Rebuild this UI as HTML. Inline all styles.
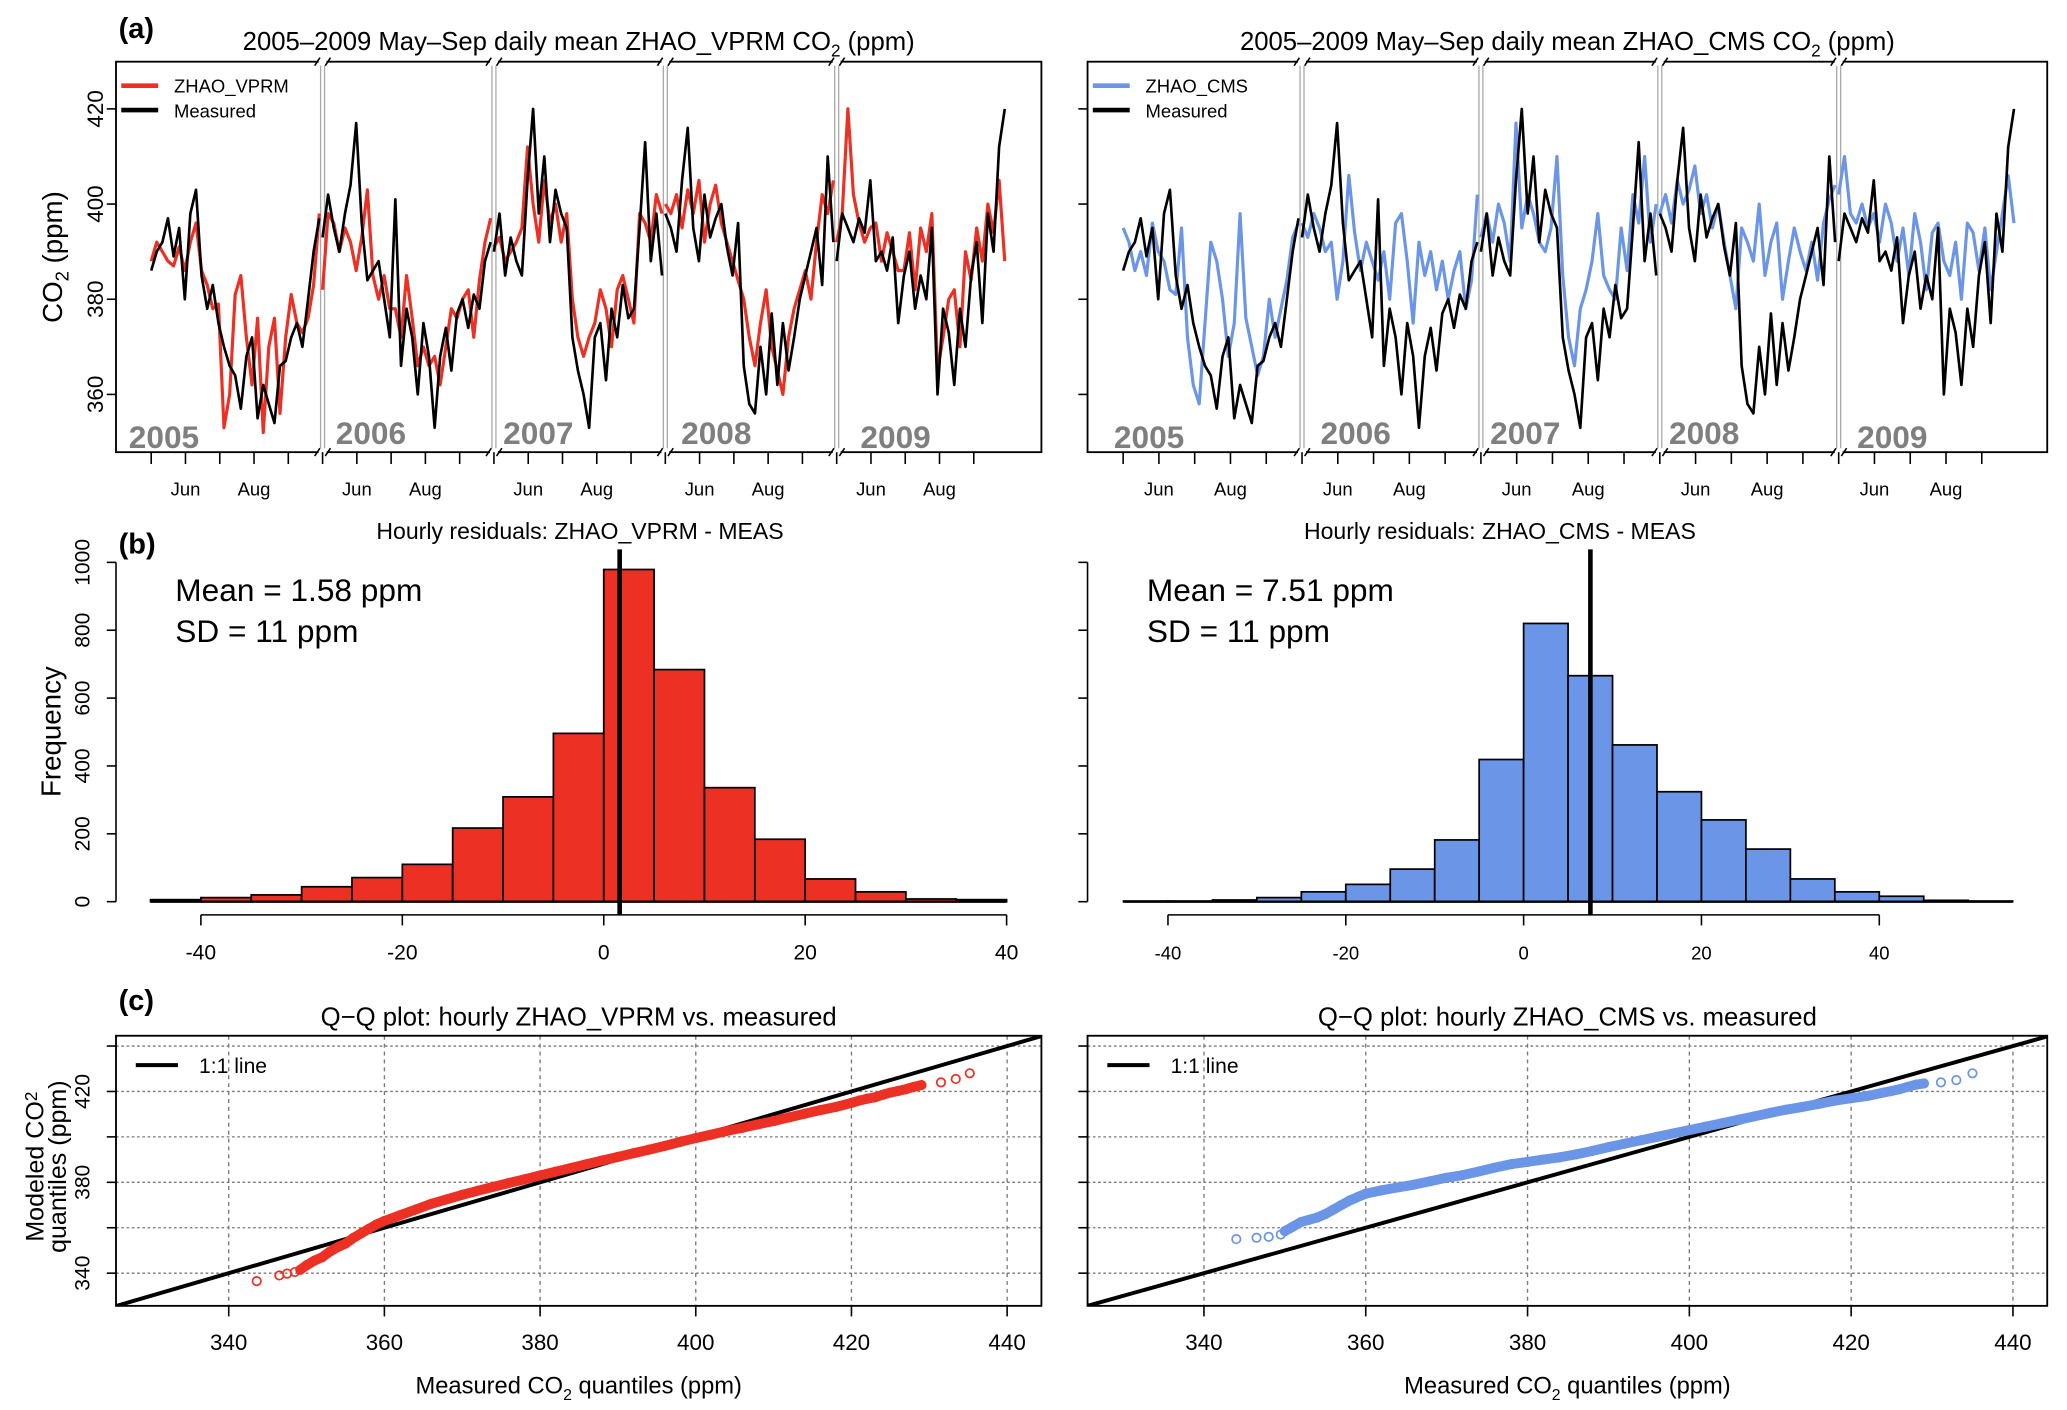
<!DOCTYPE html>
<html><head><meta charset="utf-8"><title>CO2 model comparison</title>
<style>
html,body{margin:0;padding:0;background:#fff;}
svg{display:block;font-family:"Liberation Sans",Arial,sans-serif;}
</style></head>
<body>
<svg id="fig" xmlns="http://www.w3.org/2000/svg" width="2067" height="1410" viewBox="0 0 1568 1069.6" preserveAspectRatio="none"></svg>
<script>
// ---------- DATA ----------
const years = ["2005","2006","2007","2008","2009"];
const monthLabels = ["Jun","Aug"];
const aTickValues = [360,380,400,420];
const measured = [
 [386,390,392,397,389,395,380,398,403,385,378,383,375,370,366,364,357,368,372,355,362,358,354,366,367,372,375,370,380,390,397],
 [393,402,395,390,398,404,417,396,384,386,388,380,372,401,366,378,372,360,375,368,353,368,374,365,377,380,374,381,378,388,392],
 [390,398,385,393,388,385,405,420,398,410,392,403,398,395,372,365,360,353,372,375,363,378,372,383,376,378,395,413,388,398,385],
 [398,395,390,405,416,395,388,402,393,397,400,391,385,396,366,358,356,370,360,377,362,375,365,372,380,385,390,395,383,410,392],
 [388,398,395,392,397,394,405,388,390,386,393,375,385,390,378,385,380,395,360,378,373,362,378,370,385,392,375,398,390,412,420]
];
const vprm = [
 [388,392,390,388,387,391,386,392,396,386,383,378,379,353,360,381,385,372,362,376,352,370,376,356,372,381,375,373,376,383,398],
 [382,398,396,390,395,392,386,393,403,385,380,385,378,378,372,385,376,366,370,366,368,362,370,378,376,380,382,372,384,392,397],
 [391,393,388,390,392,395,412,400,392,405,396,400,392,398,380,372,368,372,375,382,378,370,382,385,380,375,398,396,392,402,398],
 [400,398,402,395,403,398,405,392,400,404,396,392,388,384,380,372,366,375,382,370,365,360,372,378,382,386,380,392,402,398,405],
 [392,398,420,402,396,392,395,396,388,394,390,386,386,394,382,395,390,398,365,372,380,382,370,390,384,395,388,400,394,405,388]
];
const cms = [
 [395,392,386,390,385,396,390,388,382,381,395,372,362,358,375,392,388,380,368,375,398,376,370,364,368,380,372,378,384,393,396],
 [396,393,398,395,390,392,380,388,406,394,386,392,388,384,390,380,396,398,388,375,392,385,390,382,388,380,386,390,378,384,402],
 [393,398,392,400,396,388,417,395,402,398,392,390,395,410,385,372,366,378,382,388,398,385,382,380,395,386,402,396,410,392,400],
 [398,402,396,405,400,403,408,398,402,395,400,392,385,378,395,392,388,400,385,392,396,380,388,395,390,386,392,384,396,401,404],
 [402,410,398,396,400,395,398,392,400,396,388,395,385,398,392,382,394,396,388,385,392,380,396,394,386,395,382,390,398,406,396]
];
const vprmBinStart = [-45,-40,-35,-30,-25,-20,-15,-10,-5,0,5,10,15,20,25,30,35];
const vprmCounts   = [6,12,20,44,71,110,217,309,496,979,684,336,184,67,29,8,6];
const cmsBinStart  = [-45,-40,-35,-30,-25,-20,-15,-10,-5,0,5,10,15,20,25,30,35,40,45,50];
const cmsCounts    = [2,2,5,12,29,51,96,182,419,820,666,462,324,241,155,67,29,16,4,2];
const histYTicks = [0,200,400,600,800,1000];
const histXTicks = [-40,-20,0,20,40];
const vprmMean = 1.58, cmsMean = 7.51;
const qqTicks = [340,360,380,400,420,440];
const vprmQmeas  = [343.6,346.5,347.5,348.5,349.2,350,351,352,353,354,355,356,357,358,359,360,362,364,366,368,370,372,374,376,378,380,382,384,386,388,390,392,394,396,398,400,402,404,406,408,410,412,414,416,418,420,421,422,423,424,425,426,427,428,429,431.5,433.4,435.2];
const vprmQmodel = [336.5,339,339.8,340.5,341.5,343.5,345.5,347,349.5,351.5,353,355.5,357.5,359.5,361.5,363,365.5,368,370.5,372.5,374.5,376.3,378,379.7,381.3,383,384.7,386.3,388,389.6,391.2,392.8,394.4,396,397.8,399.5,401,402.6,404,405.5,407,408.6,410.2,411.8,413.2,415,416,416.8,417.4,418.5,419.5,420.2,421,422,422.8,424,425.5,428];
const cmsQmeas  = [344,346.5,348,349.5,350,351,352,353,354,355,356,357,358,359,360,362,364,366,368,370,372,374,376,378,380,382,384,386,388,390,392,394,396,398,400,402,404,406,408,410,412,414,416,418,420,422,424,425,426,427,428,429,431.1,433,435];
const cmsQmodel = [355,355.6,356,357,358.5,360.5,362.5,363.5,364.5,366,368,370,372,373.5,375,376.5,377.8,379,380.5,382,383.2,384.8,386.5,388,389,390,391,392.3,393.8,395.5,397,398.5,400,401.5,403,404.5,406,407.5,409,410.6,412,413.2,414.5,416,417,418,419.5,420.2,421,422,423,423.5,424,425,428];

// ---------- HELPERS ----------
const NS = "http://www.w3.org/2000/svg";
const svg = document.getElementById("fig");
function mk(tag, attrs, parent){
  const e = document.createElementNS(NS, tag);
  for (const k in attrs) e.setAttribute(k, attrs[k]);
  (parent||svg).appendChild(e);
  return e;
}
function txt(s, x, y, size, opts, parent){
  const o = Object.assign({x:x, y:y, "font-size":size, fill:"#000"}, opts||{});
  const t = mk("text", o, parent);
  t.textContent = s;
  return t;
}
const RED = "#ec3024", BLUE = "#6b95e6";

// ---------- PANEL (a) ----------
function panelA(gname, boxL, boxR, first, W, model, color, modelName, titleModel, showY, yearLbl){
  const g = mk("g", {});
  
  
  const top = 46.8, bot = 343;
  const yv = v => 154.8 - (v-400)*3.61;
  const xd = (k, i) => first + k*W + (i*5)/153*W;
  const t = txt("", (boxL+boxR)/2, 38, 19.5, {"text-anchor":"middle"}, g);
  
  
  t.innerHTML = "2005–2009 May–Sep daily mean " + titleModel + " CO<tspan font-size='13' dy='5'>2</tspan><tspan dy='-5'> (ppm)</tspan>";
  const box = mk("rect", {x:boxL, y:top, width:boxR-boxL, height:bot-top, fill:"none", stroke:"#000", "stroke-width":1.4}, g);
  
  
  for (let k=1;k<years.length;k++){
    const sx = first + k*W;
    const s1 = mk("line", {x1:sx-1.5, x2:sx-1.5, y1:top, y2:bot, stroke:"#aaa", "stroke-width":1}, g);
    
    
    mk("line", {x1:sx+1.5, x2:sx+1.5, y1:top, y2:bot, stroke:"#aaa", "stroke-width":1}, g);
    mk("rect", {x:sx-3, y:top-3, width:6, height:6, fill:"#fff"}, g);
    mk("rect", {x:sx-3, y:bot-3, width:6, height:6, fill:"#fff"}, g);
    mk("path", {d:`M${sx-6},${top+3}L${sx-2},${top-3}M${sx+2},${top+3}L${sx+6},${top-3}M${sx-6},${bot+3}L${sx-2},${bot-3}M${sx+2},${bot+3}L${sx+6},${bot-3}`, stroke:"#000","stroke-width":1.2, fill:"none"}, g);
  }
  function series(arr, col, name, w){
    for (let k=0;k<arr.length;k++){
      let d = "";
      arr[k].forEach((v,i)=>{ d += (i?"L":"M") + xd(k,i).toFixed(1) + "," + yv(v).toFixed(1); });
      const p = mk("path", {d:d, fill:"none", stroke:col, "stroke-width":w, "stroke-linejoin":"round"}, g);
      
      
    }
  }
  series(model, color, modelName.toLowerCase().replace('_','-'), 2.4);
  series(measured, "#000", "measured", 2.0);
  years.forEach((y,k)=>{
    const yl = txt(y, first + k*W + yearLbl[k], k===4||k===0?340:337, 24, {fill:"#7f7f7f","font-weight":"bold"}, g);
    
    
  });
  aTickValues.forEach(v=>{
    const tk = mk("line", {x1:boxL-7, x2:boxL, y1:yv(v), y2:yv(v), stroke:"#000","stroke-width":1.2}, g);
    
    
    if (showY){
      const l = txt(String(v), 0, 0, 17, {"text-anchor":"middle", transform:`translate(78,${yv(v)}) rotate(-90)`}, g);
      
      
    }
  });
  for (let k=0;k<years.length;k++){
    for (let m=0;m<5;m++){
      const tx = first + k*W + m*W/5;
      const tk = mk("line", {x1:tx, x2:tx, y1:bot, y2:bot+9, stroke:"#000","stroke-width":1.2}, g);
      
      
      if (m===1||m===3){
        const l = txt(monthLabels[(m-1)/2], tx, 376, 14, {"text-anchor":"middle"}, g);
        
        
      }
    }
  }
  const lg = mk("g", {}, g);
  
  
  mk("line", {x1:boxL+4, x2:boxL+32, y1:65, y2:65, stroke:color, "stroke-width":3.5}, lg);
  txt(modelName, boxL+44, 70, 14, {}, lg);
  mk("line", {x1:boxL+4, x2:boxL+32, y1:83.5, y2:83.5, stroke:"#000", "stroke-width":3.5}, lg);
  txt("Measured", boxL+44, 89, 14, {}, lg);
}
panelA("panel-a-vprm", 88, 790, 114.7, 130, vprm, RED, "ZHAO_VPRM", "ZHAO_VPRM", true, [-17,10,7,12,18]);
panelA("panel-a-cms", 825, 1553, 852, 135.7, cms, BLUE, "ZHAO_CMS", "ZHAO_CMS", false, [-7,14,7,7,14]);

// ---------- PANEL (b) ----------
function panelB(gname, axL, x0, ux, starts, counts, color, title, mean, meanTxt, showY){
  const g = mk("g", {});
  
  
  const xv = v => x0 + v*ux;
  const yf = f => 684 - f*0.2574;
  const t = txt(title, xv(0)-18, 409, 17.5, {"text-anchor":"middle"}, g);
  
  
  starts.forEach((s,i)=>{
    const r = mk("rect", {x:xv(s), y:yf(counts[i]), width:xv(s+5)-xv(s), height:yf(0)-yf(counts[i]), fill:color, stroke:"#000","stroke-width":1.3}, g);
    
    
  });
  mk("line", {x1:xv(starts[0]), x2:xv(starts[starts.length-1]+5), y1:684, y2:684, stroke:"#000","stroke-width":1.8}, g);
  const ml = mk("line", {x1:xv(mean), x2:xv(mean), y1:416.7, y2:694, stroke:"#000","stroke-width":3.5}, g);
  
  
  const ya = mk("line", {x1:axL, x2:axL, y1:yf(0), y2:yf(1000), stroke:"#000","stroke-width":1.2}, g);
  
  
  histYTicks.forEach(v=>{
    mk("line", {x1:axL-7, x2:axL, y1:yf(v), y2:yf(v), stroke:"#000","stroke-width":1.2}, g);
    if (showY){
      const l = txt(String(v), 0, 0, 16, {"text-anchor":"middle", transform:`translate(68,${yf(v)}) rotate(-90)`}, g);
      
      
    }
  });
  const xa = mk("line", {x1:xv(histXTicks[0]), x2:xv(histXTicks[histXTicks.length-1]), y1:694, y2:694, stroke:"#000","stroke-width":1.2}, g);
  
  
  histXTicks.forEach(v=>{
    mk("line", {x1:xv(v), x2:xv(v), y1:694, y2:702, stroke:"#000","stroke-width":1.2}, g);
    const l = txt(String(v), xv(v), 728, showY?16:14, {"text-anchor":"middle"}, g);
    
    
  });
  const m1 = txt(meanTxt, axL+45, 456, 24, {}, g);
  
  
  const m2 = txt("SD = 11 ppm", axL+45, 487, 24, {}, g);
  
  
}
panelB("panel-b-vprm", 88, 458, 7.64, vprmBinStart, vprmCounts, RED, "Hourly residuals:  ZHAO_VPRM - MEAS", vprmMean, "Mean = 1.58 ppm", true);
panelB("panel-b-cms", 825, 1155.8, 6.745, cmsBinStart, cmsCounts, BLUE, "Hourly residuals:  ZHAO_CMS - MEAS", cmsMean, "Mean = 7.51 ppm", false);

// ---------- PANEL (c) ----------
function panelC(gname, boxL, boxR, x340, ux, qm, qmod, color, title, showY){
  const g = mk("g", {});
  
  
  const top = 785.7, bot = 990.6;
  const xv = v => x340 + (v-340)*ux;
  const yv = v => 965.8 - (v-340)*1.723;
  const t = txt(title, (boxL+boxR)/2, 778, 19.5, {"text-anchor":"middle"}, g);
  
  
  qqTicks.forEach(v=>{
    const gv = mk("line", {x1:xv(v), x2:xv(v), y1:top, y2:bot, stroke:"#777","stroke-width":1,"stroke-dasharray":"3,3"}, g);
    
    
    const gh = mk("line", {x1:boxL, x2:boxR, y1:yv(v), y2:yv(v), stroke:"#777","stroke-width":1,"stroke-dasharray":"2,2"}, g);
    
    
    mk("line", {x1:xv(v), x2:xv(v), y1:bot, y2:bot+8, stroke:"#000","stroke-width":1.2}, g);
    mk("line", {x1:boxL-7, x2:boxL, y1:yv(v), y2:yv(v), stroke:"#000","stroke-width":1.2}, g);
    const l = txt(String(v), xv(v), 1024, 17, {"text-anchor":"middle"}, g);
    
    
    if (showY && (v===340||v===380||v===420)){
      const yl = txt(String(v), 0, 0, 16, {"text-anchor":"middle", transform:`translate(68,${yv(v)}) rotate(-90)`}, g);
      
      
    }
  });
  mk("clipPath", {id:"clip-"+gname}, g).appendChild(document.createElementNS(NS,"rect"));
  const cr = g.querySelector("clipPath rect");
  cr.setAttribute("x", boxL); cr.setAttribute("y", top); cr.setAttribute("width", boxR-boxL); cr.setAttribute("height", bot-top);
  const one = mk("line", {x1:xv(320), y1:yv(320), x2:xv(450), y2:yv(450), stroke:"#000","stroke-width":3, "clip-path":`url(#clip-${gname})`}, g);
  
  
  let d = "";
  qm.forEach((v,i)=>{ if (i>=4 && i<qm.length-3) d += (d?"L":"M") + xv(v).toFixed(1) + "," + yv(qmod[i]).toFixed(1); });
  const band = mk("path", {d:d, fill:"none", stroke:color, "stroke-width":7.5, "stroke-linejoin":"round","stroke-linecap":"round"}, g);
  
  
  qm.forEach((v,i)=>{
    const c = mk("circle", {cx:xv(v), cy:yv(qmod[i]), r:3.2, fill:"none", stroke:color, "stroke-width":1.3}, g);
    
    
  });
  const box = mk("rect", {x:boxL, y:top, width:boxR-boxL, height:bot-top, fill:"none", stroke:"#000","stroke-width":1.4}, g);
  
  
  const lg = mk("g", {}, g);
  
  
  mk("line", {x1:boxL+15, x2:boxL+47, y1:808, y2:808, stroke:"#000","stroke-width":3}, lg);
  txt("1:1 line", boxL+63, 814, 16, {}, lg);
  const xl = txt("", (boxL+boxR)/2, 1057, 18, {"text-anchor":"middle"}, g);
  
  
  xl.innerHTML = "Measured CO<tspan font-size='12' dy='5'>2</tspan><tspan dy='-5'> quantiles (ppm)</tspan>";
}
panelC("panel-c-vprm", 88, 790, 173.5, 5.905, vprmQmeas, vprmQmodel, RED, "Q−Q plot: hourly ZHAO_VPRM vs. measured", true);
panelC("panel-c-cms", 825, 1553, 913.3, 6.137, cmsQmeas, cmsQmodel, BLUE, "Q−Q plot: hourly ZHAO_CMS vs. measured", false);

// ---------- shared labels ----------
function lab(s, x, y, name){
  const t = txt(s, x, y, 22, {"font-weight":"bold"});
  
  
}
lab("(a)", 90, 29, "panel-label-a");
lab("(b)", 90, 420, "panel-label-b");
lab("(c)", 90, 766, "panel-label-c");
const ya = txt("", 0, 0, 21, {"text-anchor":"middle", transform:"translate(47,195) rotate(-90)"});


ya.innerHTML = "CO<tspan font-size='14' dy='5'>2</tspan><tspan dy='-5'> (ppm)</tspan>";
const yf = txt("Frequency", 0, 0, 21, {"text-anchor":"middle", transform:"translate(46,555) rotate(-90)"});


const yq1 = txt("", 0, 0, 19, {"text-anchor":"middle", transform:"translate(33,885) rotate(-90)"});


yq1.innerHTML = "Modeled CO<tspan font-size='13' dy='-5'>2</tspan>";
const yq2 = txt("quantiles (ppm)", 0, 0, 19, {"text-anchor":"middle", transform:"translate(50,885) rotate(-90)"});


</script>
</body></html>
